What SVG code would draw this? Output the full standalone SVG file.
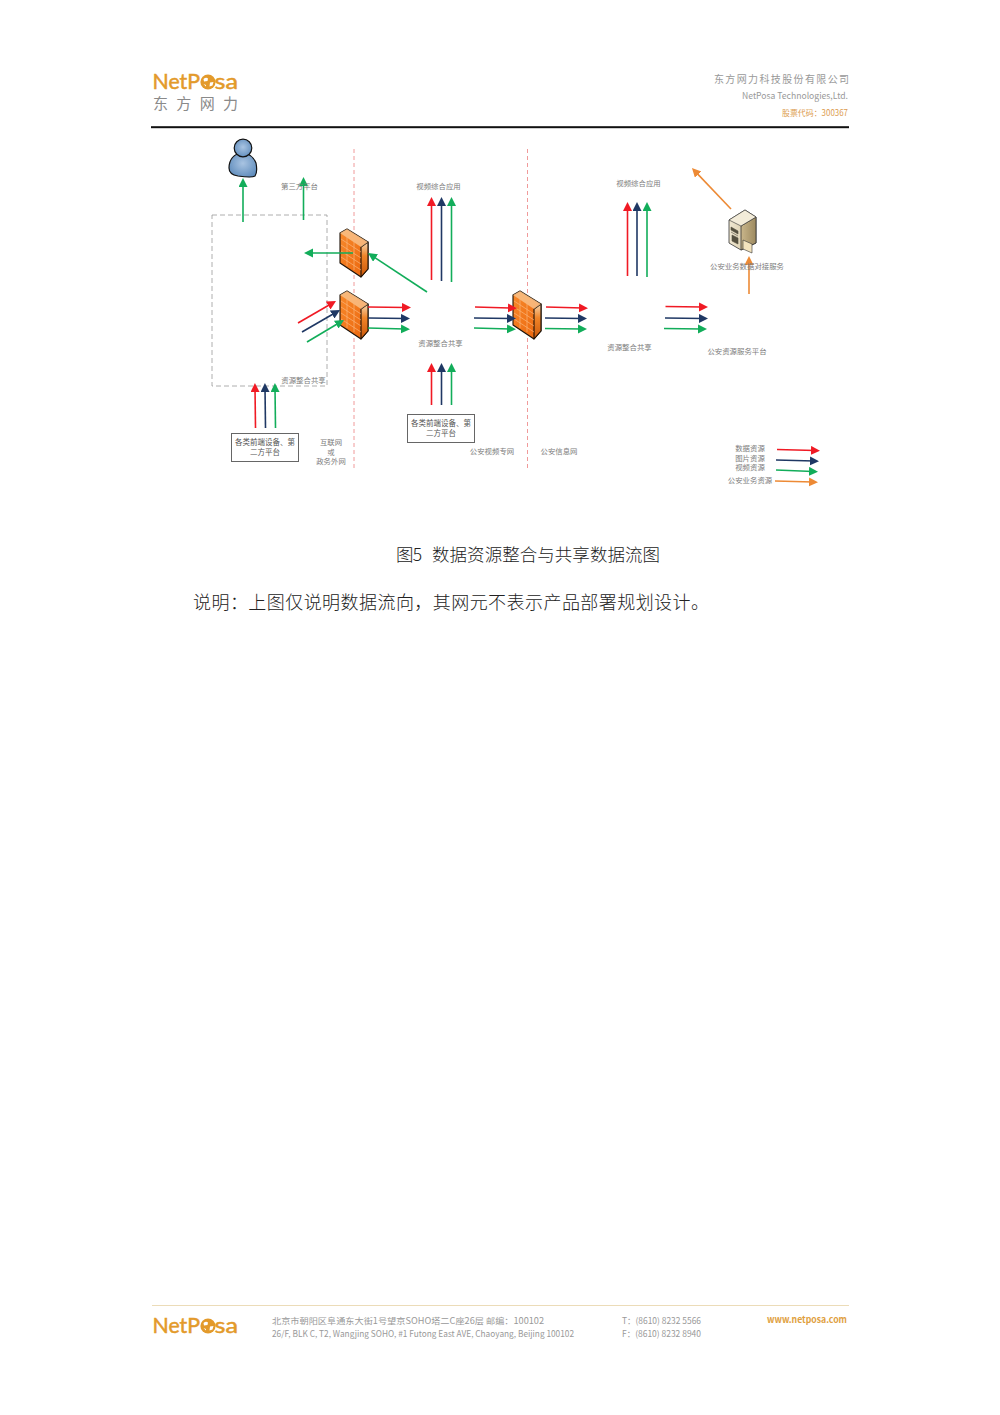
<svg xmlns="http://www.w3.org/2000/svg" width="1000" height="1415" viewBox="0 0 1000 1415">
<style>
text{font-family:"Noto Sans CJK SC","Noto Sans",sans-serif}
.l{font-size:7.4px;fill:#7c7c7c;text-anchor:middle}
.b{font-size:7.5px;fill:#555;text-anchor:middle}
.logo{font-family:"Lato","Liberation Sans",sans-serif;font-size:21px;fill:#e39a2b;stroke:#e39a2b;stroke-width:.5}
.gr{fill:#999}
.a{fill:none;stroke-width:1.6}
.red{stroke:#f01a24;marker-end:url(#mr)}
.navy{stroke:#1f3864;marker-end:url(#mn)}
.green{stroke:#12ad5a;marker-end:url(#mg)}
.orange{stroke:#ed8a35;marker-end:url(#mo)}
.brick{stroke:#fbb57a;stroke-width:.7;fill:none}
.ol{stroke:#1c1208;stroke-width:1.1;stroke-linejoin:round}
</style>
<defs>
<marker id="mr" markerUnits="userSpaceOnUse" markerWidth="12" markerHeight="10" refX="4" refY="4.500" orient="auto"><path d="M0 0L9 4.500L0 9Z" fill="#f01a24"/></marker>
<marker id="mn" markerUnits="userSpaceOnUse" markerWidth="12" markerHeight="10" refX="4" refY="4.500" orient="auto"><path d="M0 0L9 4.500L0 9Z" fill="#1f3864"/></marker>
<marker id="mg" markerUnits="userSpaceOnUse" markerWidth="12" markerHeight="10" refX="4" refY="4.500" orient="auto"><path d="M0 0L9 4.500L0 9Z" fill="#12ad5a"/></marker>
<marker id="mo" markerUnits="userSpaceOnUse" markerWidth="12" markerHeight="10" refX="4" refY="4.500" orient="auto"><path d="M0 0L9 4.500L0 9Z" fill="#ed8a35"/></marker>
<linearGradient id="fwf" x1="0" y1="0" x2="1" y2="1"><stop offset="0" stop-color="#f88a2c"/><stop offset="1" stop-color="#ea640c"/></linearGradient>
<linearGradient id="fws" x1="0" y1="0" x2="0" y2="1"><stop offset="0" stop-color="#f7d8b2"/><stop offset=".4" stop-color="#f08428"/><stop offset="1" stop-color="#c9570a"/></linearGradient>
<radialGradient id="pb" cx=".5" cy=".45" r=".6"><stop offset="0" stop-color="#a9c4e2"/><stop offset="1" stop-color="#5f8cbc"/></radialGradient>
<linearGradient id="sv" x1="0" y1="0" x2="1" y2="0"><stop offset="0" stop-color="#f0e8d2"/><stop offset="1" stop-color="#cdbd95"/></linearGradient>
<linearGradient id="svs" x1="0" y1="0" x2="1" y2="0"><stop offset="0" stop-color="#c9b68b"/><stop offset="1" stop-color="#9d8a60"/></linearGradient>
<symbol id="fw" width="30" height="50" viewBox="0 0 30 50" overflow="visible">
<path d="M0 4L7 0L28 13V40L21 48L0 34Z" fill="url(#fwf)" class="ol"/>
<path d="M21 18L28 13V40L21 48Z" fill="url(#fws)" class="ol"/>
<path d="M0 4L7 0L28 13L21 18Z" fill="#f9c48f" opacity=".8"/>
<path d="M1 10L21 23M1 16L21 29M1 22L21 35M1 28L21 41M7 7V13M14 11V17M7 13V19M14 17V23M7 19V25M14 23V29M7 25V31M14 29V35M7 31V37M14 35V41" class="brick"/>
</symbol>
<symbol id="globe" width="16" height="16" viewBox="0 0 16 16">
<circle cx="8" cy="8" r="7.600" fill="#e39a2b"/>
<path d="M3.500 5Q6 3 8 4.500L7.500 7L4 7.500ZM10 8.500L13.500 8L12.500 11.500L9.500 12.500ZM3.500 10L6 11L6 12.500Z" fill="#fff"/>
</symbol>
</defs>
<rect width="1000" height="1415" fill="#fff"/>

<g id="header">
<text class="logo" x="152.500" y="89" textLength="47.500" lengthAdjust="spacingAndGlyphs">NetP</text>
<use href="#globe" x="200" y="74"/>
<text class="logo" x="214.500" y="89" textLength="23.500" lengthAdjust="spacingAndGlyphs">sa</text>
<text x="153" y="109" font-size="15" fill="#8a8a8a" textLength="85">东方网力</text>
<text class="gr" x="714" y="83" font-size="10" textLength="135">东方网力科技股份有限公司</text>
<text class="gr" x="742" y="99" font-size="9" textLength="106" lengthAdjust="spacingAndGlyphs">NetPosa Technologies,Ltd.</text>
<text x="782" y="116" font-size="8.500" fill="#dc9c50" textLength="66" lengthAdjust="spacingAndGlyphs">股票代码：300367</text>
<rect x="151" y="126.200" width="698" height="2" fill="#111"/>
</g>

<g id="zones" fill="none">
<path d="M354 149V471M527.500 149V471" stroke="#f09a9a" stroke-width="1" stroke-dasharray="4 3"/>
<rect id="internet-zone" x="212" y="215" width="115" height="171" stroke="#9a9a9a" stroke-width=".8" stroke-dasharray="5 3"/>
</g>

<g id="person">
<path d="M243 152C234 154 229 160 229 168C229 173 232 175 238 176C245 177 252 178 255 176C257 173 257 168 256 163C254 158 250 154 243 152Z" fill="url(#pb)" stroke="#111" stroke-width="1.200"/>
<circle cx="243" cy="148" r="8.800" fill="url(#pb)" stroke="#111" stroke-width="1.200"/>
</g>
<g id="firewall-1"><use href="#fw" x="340" y="229"/></g>
<g id="firewall-2"><use href="#fw" x="340" y="291"/></g>
<g id="firewall-3"><use href="#fw" x="513" y="291"/></g>
<g id="server">
<path d="M729 220L745 210L756 217V243L741 250L729 243Z" fill="url(#sv)" stroke="#333" stroke-width=".8"/>
<path d="M741 226L756 217V243L741 250Z" fill="url(#svs)" stroke="#333" stroke-width=".8"/>
<path d="M729 220L745 210L756 217L741 226Z" fill="#f3ecd9" stroke="#333" stroke-width=".6"/>
<path d="M731 227L738 231V234L731 230ZM731 232L738 236M732 241L738 244V238L732 235Z" fill="#55503f" stroke="#55503f" stroke-width=".6"/>
<path d="M743 240L752 244V253L743 249Z" fill="#f3e3bd" stroke="#333" stroke-width=".6"/>
</g>

<g id="connectors">
<path class="a green" d="M243 222V183"/>
<path class="a green" d="M303.500 220V182"/>
<path class="a green" d="M353 253H309"/>
<path class="a green" d="M427 292L372.200 255.800"/>
<path class="a red" d="M298 323L331.700 303.500"/>
<path class="a navy" d="M302 332L335.700 312.500"/>
<path class="a green" d="M307 342L339.700 322.500"/>
<path class="a red" d="M368 307L406 307.500"/>
<path class="a navy" d="M368 318L405 318.500"/>
<path class="a green" d="M368 328L405 329"/>
<path class="a red" d="M255.500 428L255 388"/>
<path class="a navy" d="M265.500 428L265 388"/>
<path class="a green" d="M275.500 428L275 388"/>
<path class="a red" d="M431.500 405V368"/>
<path class="a navy" d="M441.500 405V368"/>
<path class="a green" d="M451.500 405V368"/>
<path class="a red" d="M431.500 280V202"/>
<path class="a navy" d="M441.500 281V202"/>
<path class="a green" d="M451.500 282V202"/>
<path class="a red" d="M475 307L512 308"/>
<path class="a navy" d="M474 318L511 318.500"/>
<path class="a green" d="M474 328L511 329"/>
<path class="a red" d="M546 307L583 308"/>
<path class="a navy" d="M545 318L582 318.500"/>
<path class="a green" d="M545 328.500L582 329"/>
<path class="a red" d="M627.500 276V207"/>
<path class="a navy" d="M637 276V207"/>
<path class="a green" d="M647 277V207"/>
<path class="a red" d="M665.500 306.500L703 307"/>
<path class="a navy" d="M665 318L703 318.500"/>
<path class="a green" d="M664 328.500L702 329"/>
<path class="a orange" d="M731 209L695.400 171.600"/>
<path class="a orange" d="M749 294V261"/>
<path class="a red" d="M777 449.500L815 450.500"/>
<path class="a navy" d="M776 460L814 461"/>
<path class="a green" d="M776 470L813 471.500"/>
<path class="a orange" d="M775 481L813 482"/>
</g>

<g id="box-1">
<rect x="231.500" y="433.500" width="67" height="28" fill="#fff" stroke="#666" stroke-width="1"/>
<text class="b" x="265" y="445">各类前端设备、第</text>
<text class="b" x="265" y="455">二方平台</text>
</g>
<g id="box-2">
<rect x="407.500" y="414.500" width="67" height="28" fill="#fff" stroke="#666" stroke-width="1"/>
<text class="b" x="441" y="426">各类前端设备、第</text>
<text class="b" x="441" y="436">二方平台</text>
</g>

<g id="labels">
<text class="l" x="299.500" y="189">第三方平台</text>
<text class="l" x="303.500" y="383">资源整合共享</text>
<text class="l" x="331" y="445">互联网</text>
<text class="l" x="331" y="454.500">或</text>
<text class="l" x="331" y="464">政务外网</text>
<text class="l" x="438.500" y="189">视频综合应用</text>
<text class="l" x="440.500" y="346">资源整合共享</text>
<text class="l" x="492" y="454">公安视频专网</text>
<text class="l" x="559" y="454">公安信息网</text>
<text class="l" x="638.500" y="186">视频综合应用</text>
<text class="l" x="629.500" y="350">资源整合共享</text>
<text class="l" x="747" y="269">公安业务数据对接服务</text>
<text class="l" x="737" y="354">公安资源服务平台</text>
<text class="l" x="750" y="451">数据资源</text>
<text class="l" x="750" y="460.500">图片资源</text>
<text class="l" x="750" y="470">视频资源</text>
<text class="l" x="750" y="483">公安业务资源</text>
</g>

<g id="body-text">
<text x="396" y="561" font-size="17.500" font-weight="300" fill="#222" textLength="26">图5</text>
<text x="432" y="561" font-size="17.500" font-weight="300" fill="#222" textLength="228">数据资源整合与共享数据流图</text>
<text x="193" y="608.500" font-size="18" font-weight="300" fill="#222" textLength="516">说明：上图仅说明数据流向，其网元不表示产品部署规划设计。</text>
</g>

<g id="footer">
<rect x="152" y="1305" width="697" height="1" fill="#ecdcb8"/>
<text class="logo" x="152.500" y="1333" textLength="47.500" lengthAdjust="spacingAndGlyphs">NetP</text>
<use href="#globe" x="200" y="1318"/>
<text class="logo" x="214.500" y="1333" textLength="23.500" lengthAdjust="spacingAndGlyphs">sa</text>
<text class="gr" x="272" y="1324" font-size="8.500" textLength="272" lengthAdjust="spacingAndGlyphs">北京市朝阳区阜通东大街1号望京SOHO塔二C座26层  邮编：100102</text>
<text class="gr" x="272" y="1337" font-size="8.500" textLength="302" lengthAdjust="spacingAndGlyphs">26/F, BLK C, T2, Wangjing SOHO, #1 Futong East AVE, Chaoyang, Beijing 100102</text>
<text class="gr" x="622" y="1324" font-size="8.500" textLength="79" lengthAdjust="spacingAndGlyphs">T：(8610) 8232 5566</text>
<text class="gr" x="622" y="1337" font-size="8.500" textLength="79" lengthAdjust="spacingAndGlyphs">F：(8610) 8232 8940</text>
<text x="767" y="1323" font-size="9" font-weight="700" fill="#e0a040" textLength="80" lengthAdjust="spacingAndGlyphs">www.netposa.com</text>
</g>
</svg>
